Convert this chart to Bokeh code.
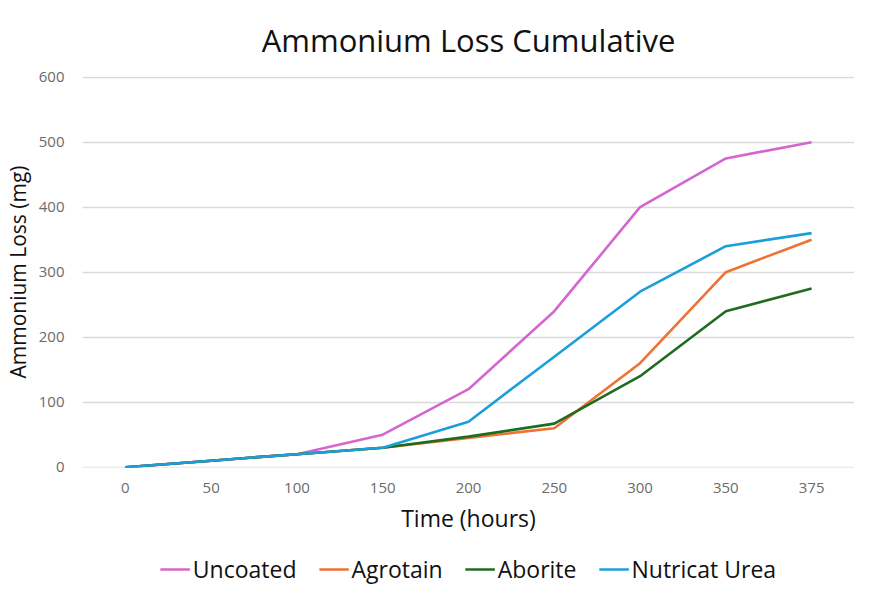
from bokeh.plotting import figure
from bokeh.models import Legend, LegendItem, FactorRange, Range1d
from bokeh.layouts import column
from bokeh.embed import file_html
from bokeh.resources import INLINE

hours = ["0", "50", "100", "150", "200", "250", "300", "350", "375"]
uncoated = [0, 10, 20, 50, 120, 240, 400, 475, 500]
agrotain = [0, 10, 20, 30, 45, 60, 160, 300, 350]
aborite = [0, 10, 20, 30, 47, 67, 140, 240, 275]
nutricat = [0, 10, 20, 30, 70, 170, 270, 340, 360]
y_ticks = [0, 100, 200, 300, 400, 500, 600]
series_names = ["Uncoated", "Agrotain", "Aborite", "Nutricat Urea"]
colors = ["#D466CF", "#EE7232", "#1F6B21", "#1B9FD9"]
series = [uncoated, agrotain, aborite, nutricat]

FONT = "Open Sans"

x_range = FactorRange(*hours)
p = figure(width=854, height=550, x_range=x_range, y_range=Range1d(-0.5, 601),
           output_backend="svg", toolbar_location=None,
           min_border_left=75, min_border_right=0, min_border_top=27, min_border_bottom=83)

p.title.text = "Ammonium Loss Cumulative"
p.title.align = "center"
p.title.text_font = FONT
p.title.text_font_size = "31px"
p.title.text_font_style = "normal"
p.title.text_color = "#111111"
p.title.standoff = 32

p.outline_line_color = None
p.xgrid.grid_line_color = None
p.ygrid.grid_line_color = "#d9d9d9"
p.ygrid.grid_line_width = 1.3
p.yaxis.ticker = y_ticks

for ax in (p.xaxis, p.yaxis):
    ax.axis_line_color = None
    ax.major_tick_line_color = None
    ax.minor_tick_line_color = None
    ax.major_label_text_font = FONT
    ax.major_label_text_font_size = "15px"
    ax.major_label_text_color = "#6b6b6b"
    ax.axis_label_text_font = FONT
    ax.axis_label_text_font_style = "normal"
    ax.axis_label_text_color = "#111111"

p.yaxis.axis_label = "Ammonium Loss (mg)"
p.yaxis.axis_label_text_font_size = "21px"
p.yaxis.major_label_standoff = 12
p.yaxis.axis_label_standoff = 4
p.xaxis.axis_label = "Time (hours)"
p.xaxis.axis_label_text_font_size = "23px"
p.xaxis.major_label_standoff = 9
p.xaxis.axis_label_standoff = 6

for name, vals, c in zip(series_names, series, colors):
    p.line(hours, vals, line_color=c, line_width=2.6)

# legend strip below the chart (same series, drawn out of view so only the legend shows)
p2 = figure(width=854, height=38, x_range=x_range, y_range=Range1d(10000, 10001),
            output_backend="svg", toolbar_location=None,
            min_border_left=0, min_border_right=0, min_border_top=0, min_border_bottom=0)
p2.axis.visible = False
p2.grid.grid_line_color = None
p2.outline_line_color = None
items = []
for name, vals, c in zip(series_names, series, colors):
    r = p2.line(hours, vals, line_color=c, line_width=2.6)
    items.append(LegendItem(label=name, renderers=[r]))
legend = Legend(items=items, orientation="horizontal", location="center",
                label_text_font=FONT, label_text_font_size="23px", label_text_color="#111111",
                glyph_width=30, spacing=22, label_standoff=3, border_line_color=None,
                background_fill_alpha=0, padding=0, margin=0)
p2.add_layout(legend, "center")

open("out.html", "w").write(file_html(column(p, p2), INLINE))
